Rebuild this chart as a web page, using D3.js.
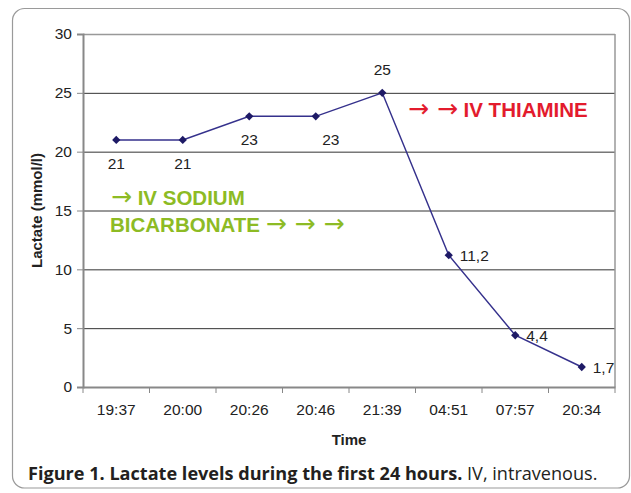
<!DOCTYPE html>
<html lang="en">
<head>
<meta charset="utf-8">
<title>Lactate levels during the first 24 hours</title>
<script src="https://cdn.jsdelivr.net/npm/d3@7/dist/d3.min.js"></script>
<style>
  body { margin: 0; background: #fff; }
  text { font-family: "Liberation Sans", Arial, sans-serif; }
  .cap { font-family: "Open Sans", "Noto Sans", sans-serif; }
  .arr { font-family: "DejaVu Sans", sans-serif; font-weight: normal; }
</style>
</head>
<body>
<svg width="631" height="493"></svg>
<script>
// values
var times = ["19:37", "20:00", "20:26", "20:46", "21:39", "04:51", "07:57", "20:34"];
var lactate = [21, 21, 23, 23, 25, 11.2, 4.4, 1.7];
var labelSide = ["below", "below", "below", "belowRight", "above", "right", "right", "right"];
var yTicks = [0, 5, 10, 15, 20, 25, 30];

var svg = d3.select("svg");
var plotL = 83, plotR = 615, plotT = 34, plotB = 387;
var fs = "15.5px";

// outer frame
svg.append("rect")
  .attr("x", 12.5).attr("y", 8.5)
  .attr("width", 617).attr("height", 479.5)
  .attr("rx", 12)
  .attr("fill", "none").attr("stroke", "#9a9a9a").attr("stroke-width", 1.2);

var x = d3.scaleBand().domain(times).range([plotL, plotR]);
var y = d3.scaleLinear().domain([0, 30]).range([plotB, plotT]);

var g = svg.append("g");

// gridlines
g.selectAll(".grid")
  .data(yTicks.filter(function(d) { return d > 0 && d < 30; }))
  .enter().append("line")
  .attr("x1", plotL).attr("x2", plotR)
  .attr("y1", function(d) { return y(d) + 0.5; })
  .attr("y2", function(d) { return y(d) + 0.5; })
  .attr("stroke", "#333").attr("stroke-width", 1);

// plot border top/right
g.append("line").attr("x1", plotL).attr("x2", plotR).attr("y1", plotT + 0.5).attr("y2", plotT + 0.5)
  .attr("stroke", "#999").attr("stroke-width", 1.5);
g.append("line").attr("x1", plotR).attr("x2", plotR).attr("y1", plotT).attr("y2", plotB)
  .attr("stroke", "#999").attr("stroke-width", 1.5);

// y axis
var yAxis = g.append("g")
  .attr("transform", "translate(" + plotL + ",0)")
  .call(d3.axisLeft(y).tickValues(yTicks).tickSize(6).tickPadding(5));
yAxis.select(".domain").attr("stroke", "#888").attr("stroke-width", 2);
yAxis.selectAll(".tick line").attr("stroke", "#888");
yAxis.selectAll("text").style("font-size", fs).attr("fill", "#222");

// x axis with ticks at band edges
var xAxis = g.append("g")
  .attr("transform", "translate(0," + plotB + ")")
  .call(d3.axisBottom(x).tickSize(0).tickPadding(17));
xAxis.select(".domain").attr("stroke", "#888").attr("stroke-width", 2);
xAxis.selectAll("text").style("font-size", fs).attr("fill", "#222");
xAxis.selectAll(".edge")
  .data(times.concat(["end"]))
  .enter().append("line")
  .attr("x1", function(d, i) { return plotL + i * x.step(); })
  .attr("x2", function(d, i) { return plotL + i * x.step(); })
  .attr("y1", 0).attr("y2", 6)
  .attr("stroke", "#888");

// axis titles
svg.append("text")
  .attr("transform", "translate(42," + ((plotT + plotB) / 2) + ") rotate(-90)")
  .attr("text-anchor", "middle")
  .style("font-size", "15px").style("font-weight", "bold").attr("fill", "#222")
  .text("Lactate (mmol/l)");
svg.append("text")
  .attr("x", (plotL + plotR) / 2).attr("y", 445)
  .attr("text-anchor", "middle")
  .style("font-size", "15px").style("font-weight", "bold").attr("fill", "#222")
  .text("Time");

// series line
var pts = times.map(function(t, i) { return { t: t, v: lactate[i], side: labelSide[i] }; });
var cx = function(d) { return x(d.t) + x.bandwidth() / 2; };

g.append("path")
  .datum(pts)
  .attr("fill", "none")
  .attr("stroke", "#35318c")
  .attr("stroke-width", 1.5)
  .attr("d", d3.line().x(cx).y(function(d) { return y(d.v); }));

g.selectAll(".pt")
  .data(pts)
  .enter().append("path")
  .attr("transform", function(d) { return "translate(" + cx(d) + "," + y(d.v) + ")"; })
  .attr("d", d3.symbol().type(d3.symbolDiamond2).size(44))
  .attr("fill", "#1e1a66");

var fmt = function(v) { return String(v).replace(".", ","); };
g.selectAll(".lbl")
  .data(pts)
  .enter().append("text")
  .attr("x", function(d) {
    if (d.side === "right") return cx(d) + 11;
    if (d.side === "belowRight") return cx(d) + 15;
    return cx(d);
  })
  .attr("y", function(d) {
    if (d.side === "above") return y(d.v) - 18;
    if (d.side === "right") return y(d.v) + 6;
    return y(d.v) + 29;
  })
  .attr("text-anchor", function(d) { return d.side === "right" ? "start" : "middle"; })
  .style("font-size", fs).attr("fill", "#222")
  .text(function(d) { return fmt(d.v); });

// annotations
function note(xp, yp, color, parts) {
  var t = svg.append("text").attr("x", xp).attr("y", yp)
    .style("font-size", "20.5px").style("font-weight", "bold").attr("fill", color);
  parts.forEach(function(p) {
    var s = t.append("tspan").text(p);
    if (p.indexOf("\u2192") >= 0) s.attr("class", "arr").style("font-size", "25px");
  });
}
note(111, 205, "#8dbb24", ["\u2192", " IV SODIUM"]);
note(110, 232, "#8dbb24", ["BICARBONATE ", "\u2192 \u2192 \u2192"]);
note(408, 117, "#e31b2d", ["\u2192 \u2192", " IV THIAMINE"]);

// caption
var cap = svg.append("text").attr("class", "cap")
  .attr("x", 28).attr("y", 480)
  .style("font-size", "18.1px").attr("fill", "#231f20");
cap.append("tspan").style("font-weight", "bold").text("Figure 1. Lactate levels during the first 24 hours.");
cap.append("tspan").text(" IV, intravenous.");
</script>
</body>
</html>
